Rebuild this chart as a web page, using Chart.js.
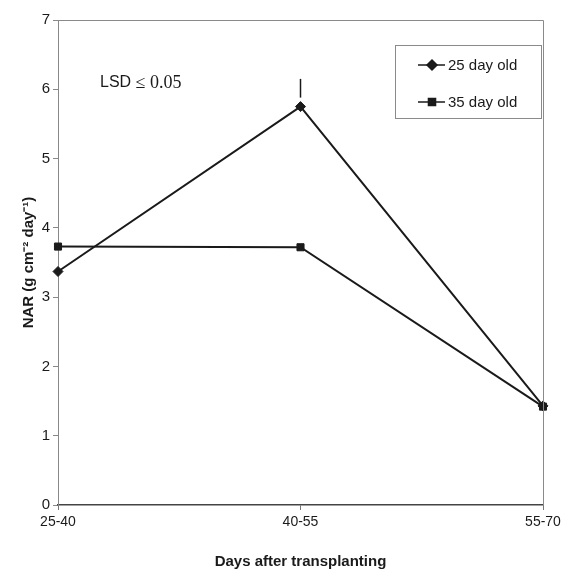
<!DOCTYPE html>
<html>
<head>
<meta charset="utf-8">
<script src="https://cdn.jsdelivr.net/npm/chart.js@4"></script>
<style>
  html, body { margin: 0; padding: 0; background: #fff; }
  #wrap { width: 572px; height: 571px; }
</style>
</head>
<body>
<div id="wrap"><canvas id="grafico" width="572" height="571"></canvas></div>
<script>
var categorias = ["25-40", "40-55", "55-70"]
var dia25 = [3.37, 5.75, 1.43]
var dia35 = [3.73, 3.72, 1.42]
var lsdBarra = [5.88, 6.15]   // barra LSD sobre 40-55
var yTicks = [0, 1, 2, 3, 4, 5, 6, 7]

var fonte = "Arial, 'Liberation Sans', sans-serif"
var tinta = "#1a1a1a"

// moldura, barra LSD, texto e legenda desenhados a mao
var extras = {
    id: "extras",
    afterDatasetsDraw: function (chart) {
        var ctx = chart.ctx
        var a = chart.chartArea
        var x = chart.scales.x
        var y = chart.scales.y
        ctx.save()

        // moldura superior e direita
        ctx.strokeStyle = "#8a8a8a"
        ctx.lineWidth = 1
        ctx.beginPath()
        ctx.moveTo(a.left, a.top + 0.5)
        ctx.lineTo(a.right + 0.5, a.top + 0.5)
        ctx.lineTo(a.right + 0.5, a.bottom)
        ctx.stroke()

        // barra LSD
        var bx = x.getPixelForValue(1)
        ctx.strokeStyle = tinta
        ctx.lineWidth = 1.5
        ctx.beginPath()
        ctx.moveTo(bx, y.getPixelForValue(lsdBarra[0]))
        ctx.lineTo(bx, y.getPixelForValue(lsdBarra[1]))
        ctx.stroke()

        // texto LSD
        ctx.fillStyle = tinta
        ctx.textBaseline = "middle"
        ctx.textAlign = "left"
        ctx.font = "16px " + fonte
        ctx.fillText("LSD", 100, 83)
        var w = ctx.measureText("LSD ").width
        ctx.font = "18px 'Liberation Serif', 'Times New Roman', serif"
        ctx.fillText("\u2264 0.05", 100 + w, 83)

        // legenda
        var lx = 395, ly = 45, lw = 146, lh = 73
        ctx.strokeStyle = "#8a8a8a"
        ctx.lineWidth = 1
        ctx.strokeRect(lx + 0.5, ly + 0.5, lw, lh)
        var itens = chart.data.datasets
        var linhasY = [ly + 20, ly + 57]
        itens.forEach(function (ds, i) {
            var cy = linhasY[i]
            ctx.strokeStyle = tinta
            ctx.lineWidth = 1.5
            ctx.beginPath()
            ctx.moveTo(418, cy)
            ctx.lineTo(445, cy)
            ctx.stroke()
            Chart.helpers.drawPoint(ctx, {
                pointStyle: ds.pointStyle, radius: ds.pointRadius,
                borderWidth: 1, rotation: 0
            }, 432, cy)
            ctx.fillStyle = tinta
            ctx.font = "15px " + fonte
            ctx.textAlign = "left"
            ctx.fillText(ds.label, 448, cy + 1)
        })
        ctx.restore()
    }
}

new Chart(document.getElementById("grafico"), {
    type: "line",
    data: {
        labels: categorias,
        datasets: [{
            label: "25 day old",
            data: dia25,
            borderColor: tinta,
            backgroundColor: tinta,
            borderWidth: 2,
            pointStyle: "rectRot",
            pointRadius: 5,
            pointBorderWidth: 1
        }, {
            label: "35 day old",
            data: dia35,
            borderColor: tinta,
            backgroundColor: tinta,
            borderWidth: 2,
            pointStyle: "rect",
            pointRadius: 5,
            pointBorderWidth: 1
        }]
    },
    options: {
        responsive: false,
        animation: false,
        layout: { padding: { top: 20, right: 29, left: 20, bottom: 0 } },
        plugins: { legend: { display: false }, tooltip: { enabled: false } },
        scales: {
            x: {
                offset: false,
                grid: { drawOnChartArea: false, drawTicks: true, tickLength: 5, color: "#777" },
                border: { color: "#444", width: 1.5 },
                ticks: { color: tinta, font: { family: fonte, size: 14 }, padding: 4, maxRotation: 0 },
                title: { display: true, text: "Days after transplanting", color: tinta,
                         font: { family: fonte, size: 15, weight: "bold" }, padding: { top: 10, bottom: 0 } },
                afterFit: function (s) { s.height = 66 }
            },
            y: {
                min: 0,
                max: 7,
                afterBuildTicks: function (s) { s.ticks = yTicks.map(function (v) { return { value: v } }) },
                grid: { drawOnChartArea: false, drawTicks: true, tickLength: 5, color: "#888" },
                border: { color: "#888", width: 1 },
                ticks: { color: tinta, font: { family: fonte, size: 15 }, padding: 3 },
                title: { display: true, text: "NAR (g cm\u207B\u00B2 day\u207B\u00B9)", color: tinta,
                         font: { family: fonte, size: 15, weight: "bold" }, padding: { top: 0, bottom: 4 } },
                afterFit: function (s) { s.width = 38 }
            }
        }
    },
    plugins: [extras]
})
</script>
</body>
</html>
